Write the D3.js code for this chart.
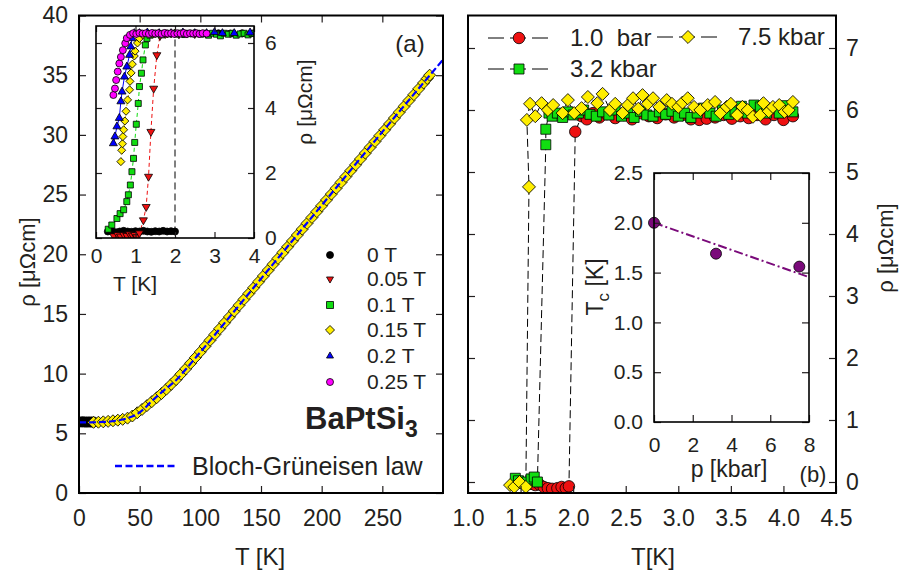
<!DOCTYPE html>
<html>
<head>
<meta charset="utf-8">
<script src="https://cdn.jsdelivr.net/npm/d3@7"></script>
<style>
  body { margin: 0; background: #fff; }
  text { font-family: "Liberation Sans", Arial, Helvetica, sans-serif; fill: #231f20; }
</style>
</head>
<body>
<svg id="chart" width="905" height="578"></svg>
<script>
// ---------- data ----------
// panel (a): rho [uOhm cm] vs T [K]
const mainCurve = [[12,5.92],[16,5.93],[20,5.96],[24,6.0],[28,6.05],[32,6.1],[36,6.17],[40,6.27],[44,6.45],[48,6.72],
  [52,7.0],[56,7.32],[60,7.65],[64,7.98],[68,8.33],[72,8.7],[76,9.1],[80,9.5],[84,9.95],[88,10.4],[92,10.87],[96,11.35],
  [100,11.82],[104,12.3],[108,12.79],[112,13.28],[116,13.77],[120,14.26],[124,14.75],[128,15.24],[132,15.73],[136,16.22],
  [140,16.71],[144,17.2],[148,17.69],[152,18.18],[156,18.67],[160,19.16],[164,19.65],[168,20.14],[172,20.63],[176,21.12],
  [180,21.61],[184,22.1],[188,22.59],[192,23.08],[196,23.57],[200,24.06],[204,24.55],[208,25.04],[212,25.53],[216,26.02],
  [220,26.51],[224,27.0],[228,27.49],[232,27.98],[236,28.47],[240,28.96],[244,29.45],[248,29.94],[252,30.43],[256,30.92],
  [260,31.41],[264,31.9],[268,32.39],[272,32.88],[276,33.37],[280,33.86],[284,34.35],[287,34.72],[289,35.0]];
const mainZeroField = [[1.5,5.95],[3,5.96],[4.5,5.95],[6,5.94],[7.5,5.95],[9,5.95],[10.5,5.94],[12,5.95]];
const blochGruneisen = [[0,5.92],[10,5.92],[20,5.95],[30,6.05],[40,6.27],[50,6.75],[60,7.7],[70,8.6],[80,9.45],
  [90,10.6],[100,11.8],[150,17.95],[200,24.1],[250,30.25],[300,36.3]];

// panel (a) inset: low-T transitions in field
const fieldLabels = ["0 T", "0.05 T", "0.1 T", "0.15 T", "0.2 T", "0.25 T"];
const field0 = [[0.3,0.2],[0.4,0.22],[0.5,0.18],[0.6,0.2],[0.7,0.22],[0.8,0.2],[0.9,0.19],[1.0,0.21],[1.1,0.2],[1.2,0.22],
  [1.3,0.2],[1.4,0.19],[1.5,0.21],[1.6,0.2],[1.7,0.22],[1.8,0.2],[1.9,0.21],[2.0,0.2],[2.0,6.3],[2.2,6.28],[2.5,6.3],
  [2.8,6.28],[3.1,6.3],[3.4,6.29],[3.7,6.3],[4.0,6.3]];
const field005 = [[0.45,0.06],[0.55,0.1],[0.62,0.05],[0.7,0.1],[0.78,0.07],[0.85,0.12],[0.92,0.08],[0.98,0.1],[1.03,0.03],
  [1.1,0.15],[1.2,0.55],[1.27,0.96],[1.33,1.89],[1.39,3.27],[1.46,4.6],[1.54,5.63],[1.62,6.22],[1.75,6.28],[1.9,6.3],
  [2.1,6.27],[2.3,6.3],[2.5,6.28]];
const field01 = [[0.31,0.27],[0.4,0.4],[0.53,0.6],[0.61,0.75],[0.7,0.87],[0.78,1.12],[0.82,1.33],[0.87,1.63],[0.91,2.04],
  [0.95,2.45],[0.98,2.94],[1.02,3.5],[1.07,4.14],[1.1,4.66],[1.15,5.07],[1.19,5.48],[1.25,5.94],[1.29,6.14],[1.37,6.24],
  [1.45,6.27],[1.55,6.3],[1.65,6.25],[1.75,6.3],[1.85,6.28],[1.95,6.3],[2.05,6.27],[2.15,6.3],[2.25,6.26],[2.35,6.3],
  [2.45,6.28],[2.55,6.3],[2.65,6.27],[2.75,6.3],[2.85,6.24],[2.95,6.3],[3.05,6.27],[3.15,6.22],[3.25,6.3],[3.35,6.27],
  [3.45,6.3],[3.55,6.24],[3.65,6.28],[3.75,6.3],[3.85,6.25],[3.95,6.29],[4.0,6.3]];
const field015 = [[0.63,2.35],[0.65,2.7],[0.67,2.9],[0.68,3.12],[0.7,3.33],[0.73,3.6],[0.76,3.9],[0.8,4.25],[0.85,4.56],
  [0.86,4.82],[0.89,5.08],[0.92,5.35],[0.97,5.6],[0.99,5.75],[1.05,6.0],[1.1,6.14],[1.18,6.25],[1.3,6.3],[1.45,6.28],
  [1.6,6.3],[1.8,6.28],[2.0,6.3]];
const field02 = [[0.44,2.91],[0.48,3.12],[0.53,3.43],[0.59,3.69],[0.63,4.2],[0.66,4.5],[0.72,4.96],[0.78,5.27],[0.85,5.63],
  [0.88,5.89],[0.91,6.14],[0.97,6.3],[1.1,6.3],[1.3,6.32],[1.6,6.3],[1.9,6.3],[2.2,6.32],[2.5,6.3],[2.8,6.3],[3.0,6.33],
  [3.2,6.3],[3.5,6.3],[3.9,6.32]];
const field025 = [[0.44,4.4],[0.48,4.6],[0.51,4.86],[0.55,5.12],[0.59,5.37],[0.63,5.57],[0.68,5.78],[0.74,5.99],[0.78,6.15],
  [0.86,6.25],[0.94,6.3],[1.02,6.28],[1.1,6.31],[1.18,6.29],[1.26,6.3],[1.34,6.28],[1.42,6.31],[1.5,6.29],[1.58,6.3],
  [1.66,6.28],[1.74,6.31],[1.82,6.29],[1.9,6.3],[1.98,6.28],[2.06,6.3],[2.14,6.29],[2.22,6.31],[2.3,6.28],[2.38,6.3],
  [2.46,6.29],[2.54,6.3],[2.62,6.28],[2.7,6.3],[2.8,6.29]];

// panel (b): rho vs T under pressure
const pressureLabels = ["1.0  bar", "3.2 kbar", "7.5 kbar"];
const bar10 = [[1.6,-0.03],[1.64,-0.05],[1.68,-0.04],[1.72,-0.08],[1.76,-0.1],[1.8,-0.11],[1.85,-0.1],[1.89,-0.08],
  [1.93,-0.1],[1.96,-0.07],[2.02,5.65],[2.08,5.9],[2.13,5.85],[2.19,5.95],[2.25,5.88],[2.32,5.93],[2.4,5.87],[2.48,5.92],
  [2.56,5.85],[2.64,5.95],[2.72,5.9],[2.8,5.87],[2.88,5.93],[2.96,5.88],[3.04,5.92],[3.12,5.85],[3.2,5.84],[3.27,5.86],
  [3.35,5.88],[3.43,5.92],[3.51,5.86],[3.59,5.9],[3.67,5.87],[3.75,5.92],[3.83,5.85],[3.91,5.92],[4.0,5.84],[4.09,5.9]];
const kbar32 = [[1.45,0.06],[1.48,0.02],[1.52,-0.02],[1.56,0.0],[1.6,0.05],[1.63,0.08],[1.66,0.0],[1.74,5.44],[1.74,5.69],
  [1.77,5.95],[1.8,5.9],[1.85,5.95],[1.9,5.88],[1.95,5.97],[2.0,5.92],[2.05,5.95],[2.1,6.0],[2.16,5.93],[2.22,5.9],
  [2.28,5.97],[2.34,5.92],[2.4,6.0],[2.46,5.9],[2.52,5.95],[2.58,5.88],[2.64,5.98],[2.7,5.92],[2.76,5.9],[2.82,5.97],
  [2.88,5.93],[2.94,5.98],[3.0,5.9],[3.06,5.95],[3.12,5.88],[3.18,5.95],[3.24,6.03],[3.3,5.95],[3.36,5.9],[3.42,6.0],
  [3.48,5.93],[3.54,5.97],[3.6,6.06],[3.66,5.95],[3.72,6.08],[3.78,6.05],[3.84,5.95],[3.9,6.02],[3.96,5.95],[4.02,6.07],
  [4.09,5.97]];
const kbar75 = [[1.4,-0.05],[1.44,-0.08],[1.49,0.0],[1.55,-0.08],[1.58,4.76],[1.56,5.84],[1.59,6.1],[1.64,5.9],[1.7,6.11],
  [1.76,6.0],[1.81,6.08],[1.9,5.95],[1.95,6.16],[2.01,5.95],[2.08,6.03],[2.14,6.21],[2.23,6.11],[2.28,6.26],[2.35,6.0],
  [2.4,6.1],[2.47,5.95],[2.52,6.08],[2.57,6.19],[2.62,6.02],[2.66,6.24],[2.71,6.1],[2.76,6.19],[2.82,6.05],[2.89,6.16],
  [2.94,6.1],[3.0,6.05],[3.04,6.12],[3.09,6.19],[3.15,6.05],[3.21,6.0],[3.28,6.08],[3.35,6.13],[3.4,5.95],[3.46,6.05],
  [3.5,6.1],[3.56,5.92],[3.61,6.05],[3.66,6.0],[3.71,5.89],[3.78,5.92],[3.81,6.11],[3.86,5.98],[3.9,6.05],[3.96,6.08],
  [4.01,5.97],[4.05,6.0],[4.09,6.13]];

// panel (b) inset: Tc vs pressure
const tcPressure = [0, 3.2, 7.5];
const tcValues = [2.0, 1.69, 1.56];
const tcFit = [[0, 2.0], [8, 1.455]];

// tick values
const ticksAx = [0, 50, 100, 150, 200, 250];
const ticksAy = [0, 5, 10, 15, 20, 25, 30, 35, 40];
const ticksIAx = [0, 1, 2, 3, 4];
const ticksIAy = [0, 2, 4, 6];
const ticksBx = [1.0, 1.5, 2.0, 2.5, 3.0, 3.5, 4.0, 4.5];
const ticksBy = [0, 1, 2, 3, 4, 5, 6, 7];
const ticksIBx = [0, 2, 4, 6, 8];
const ticksIBy = [0, 0.5, 1.0, 1.5, 2.0, 2.5];

// ---------- setup ----------
const FONT = '"Liberation Sans", Arial, Helvetica, sans-serif';
const INK = "#231f20";
const RED = "#ee1111", GREEN = "#11dd11", YELLOW = "#ffee00", BLUE = "#0000ff", MAGENTA = "#ff00ff", PURPLE = "#7a0a7a";

const svg = d3.select("#chart");

// panel geometry
const A = { left: 79, right: 443, top: 15.5, bottom: 493 };
const IA = { left: 96, right: 254, top: 26, bottom: 238 };
const B = { left: 468, right: 836, top: 15.5, bottom: 493 };
const IB = { left: 654, right: 809, top: 173, bottom: 422 };

const xA = d3.scaleLinear().domain([0, 300]).range([A.left, A.right]);
const yA = d3.scaleLinear().domain([0, 40]).range([A.bottom, A.top]);
const xIA = d3.scaleLinear().domain([0, 4]).range([IA.left, IA.right]);
const yIA = d3.scaleLinear().domain([0, 6]).range([IA.bottom, 43]);
const xB = d3.scaleLinear().domain([1.0, 4.5]).range([B.left, B.right]);
const yB = d3.scaleLinear().domain([0, 7]).range([482, 48]);
const xIB = d3.scaleLinear().domain([0, 8]).range([IB.left, IB.right]);
const yIB = d3.scaleLinear().domain([0, 2.5]).range([IB.bottom, IB.top]);

// clip paths
const defs = svg.append("defs");
function clip(id, p) {
  defs.append("clipPath").attr("id", id).append("rect")
    .attr("x", p.left).attr("y", p.top).attr("width", p.right - p.left).attr("height", p.bottom - p.top);
  return `url(#${id})`;
}

function symbolPath(shape, s) {
  if (shape === "circle") return d3.symbol(d3.symbolCircle, Math.PI * s * s / 4)();
  if (shape === "square") return d3.symbol(d3.symbolSquare, s * s)();
  if (shape === "diamond") return d3.symbol(d3.symbolSquare, s * s / 2)();
  return d3.symbol(d3.symbolTriangle, s * s * 0.433)();
}
const rotation = { diamond: 45, triDown: 180 };

function drawMarks(g, pts, x, y, shape, s, fill) {
  const d = symbolPath(shape, s);
  const rot = rotation[shape] || 0;
  g.append("g").selectAll("path").data(pts).join("path")
    .attr("d", d)
    .attr("transform", (p) => `translate(${x(p[0])},${y(p[1])}) rotate(${rot})`)
    .attr("fill", fill).attr("stroke", "#000").attr("stroke-width", 0.8);
}

function drawLine(g, pts, x, y, stroke, dash, w, curve) {
  const line = d3.line().x((p) => x(p[0])).y((p) => y(p[1]));
  if (curve) line.curve(curve);
  g.append("path").datum(pts).attr("d", line)
    .attr("fill", "none").attr("stroke", stroke).attr("stroke-width", w)
    .attr("stroke-dasharray", dash);
}

function addAxis(gen, transform, fs) {
  const a = svg.append("g").attr("transform", transform).call(gen);
  a.select(".domain").remove();
  a.attr("font-size", fs).attr("font-family", FONT).attr("color", INK);
  a.selectAll(".tick line").attr("stroke-width", 1.2);
  return a;
}

function frame(p, w) {
  svg.append("rect").attr("x", p.left).attr("y", p.top)
    .attr("width", p.right - p.left).attr("height", p.bottom - p.top)
    .attr("fill", "none").attr("stroke", "#000").attr("stroke-width", w);
}

function label(x, y, txt, fs, anchor, rot) {
  const t = svg.append("text").attr("font-size", fs).attr("text-anchor", anchor || "start")
    .attr("transform", `translate(${x},${y})` + (rot ? ` rotate(${rot})` : ""))
    .style("white-space", "pre");
  t.text(txt);
  return t;
}

// ---------- panel (a) ----------
const gA = svg.append("g").attr("clip-path", clip("clipA", A));
drawMarks(gA, mainZeroField, xA, yA, "circle", 10, "#000");
drawMarks(gA, mainCurve, xA, yA, "diamond", 12, YELLOW);
drawLine(gA, blochGruneisen, xA, yA, BLUE, "7,3", 2.2, d3.curveMonotoneX);

addAxis(d3.axisBottom(xA).tickValues(ticksAx).tickSize(-7).tickPadding(17), `translate(0,${A.bottom})`, 23);
addAxis(d3.axisTop(xA).tickValues(ticksAx).tickSize(-7).tickFormat(""), `translate(0,${A.top})`, 23);
addAxis(d3.axisLeft(yA).tickValues(ticksAy).tickSize(-7).tickPadding(11), `translate(${A.left},0)`, 23);
addAxis(d3.axisRight(yA).tickValues(ticksAy).tickSize(-7).tickFormat(""), `translate(${A.right},0)`, 23);
frame(A, 2);

label(260, 565, "T [K]", 24, "middle");
label(35, 262, "ρ [μΩcm]", 22, "middle", -90);
label(410, 52, "(a)", 24, "middle");

// legend (a)
const legendShapes = [["circle", "#000"], ["triDown", RED], ["square", GREEN], ["diamond", YELLOW], ["triUp", BLUE], ["circle", MAGENTA]];
const legendRowsA = [255, 279, 305, 330, 356, 382];
legendShapes.forEach(([shape, fill], i) => {
  drawMarks(svg, [[0, 0]], (v) => 330 + v, (v) => legendRowsA[i] + v, shape, shape === "diamond" ? 9 : 7, fill);
  label(367, legendRowsA[i] + 7, fieldLabels[i], 21);
});

const formula = svg.append("text").attr("x", 305).attr("y", 429).attr("font-size", 31).attr("font-weight", "bold");
formula.append("tspan").text("BaPtSi");
formula.append("tspan").attr("font-size", 23).attr("dy", 8).text("3");

svg.append("line").attr("x1", 115).attr("x2", 175).attr("y1", 466).attr("y2", 466)
  .attr("stroke", BLUE).attr("stroke-width", 2.5).attr("stroke-dasharray", "7,3.5");
label(192, 475, "Bloch-Grüneisen law", 25);

// ---------- panel (a) inset ----------
svg.append("rect").attr("x", IA.left).attr("y", IA.top).attr("width", IA.right - IA.left)
  .attr("height", IA.bottom - IA.top).attr("fill", "#fff");
const gIA = svg.append("g").attr("clip-path", clip("clipIA", IA));
drawLine(gIA, field0, xIA, yIA, "#000", "7,4", 1, null);
drawLine(gIA, field005, xIA, yIA, RED, "4,3", 1, null);
drawLine(gIA, field01, xIA, yIA, GREEN, "4,3", 1, null);
drawLine(gIA, field015, xIA, yIA, "#d8c800", "4,3", 1, null);
drawLine(gIA, field02, xIA, yIA, BLUE, null, 1, null);
drawMarks(gIA, field0, xIA, yIA, "circle", 7, "#000");
drawMarks(gIA, field005, xIA, yIA, "triDown", 8, RED);
drawMarks(gIA, field01, xIA, yIA, "square", 6, GREEN);
drawMarks(gIA, field015, xIA, yIA, "diamond", 8, YELLOW);
drawMarks(gIA, field02, xIA, yIA, "triUp", 8, BLUE);
drawMarks(gIA, field025, xIA, yIA, "circle", 7, MAGENTA);

addAxis(d3.axisBottom(xIA).tickValues(ticksIAx).tickFormat(d3.format("d")).tickSize(-6).tickPadding(10), `translate(0,${IA.bottom})`, 21);
addAxis(d3.axisTop(xIA).tickValues(ticksIAx).tickSize(-6).tickFormat(""), `translate(0,${IA.top})`, 21);
addAxis(d3.axisRight(yIA).tickValues(ticksIAy).tickFormat(d3.format("d")).tickSize(-6).tickPadding(11), `translate(${IA.right},0)`, 21);
addAxis(d3.axisLeft(yIA).tickValues(ticksIAy).tickSize(-6).tickFormat(""), `translate(${IA.left},0)`, 21);
frame(IA, 1.6);
label(135, 291, "T [K]", 21, "middle");
label(312, 102, "ρ [μΩcm]", 21, "middle", -90);

// ---------- panel (b) ----------
const gB = svg.append("g").attr("clip-path", clip("clipB", B));
drawLine(gB, bar10, xB, yB, "#000", "8,4", 1, null);
drawLine(gB, kbar32, xB, yB, "#000", "8,4", 1, null);
drawLine(gB, kbar75, xB, yB, "#000", "8,4", 1, null);
drawMarks(gB, bar10, xB, yB, "circle", 11.5, RED);
drawMarks(gB, kbar32, xB, yB, "square", 10, GREEN);
drawMarks(gB, kbar75, xB, yB, "diamond", 13, YELLOW);

addAxis(d3.axisBottom(xB).tickValues(ticksBx).tickFormat(d3.format(".1f")).tickSize(-7).tickPadding(17), `translate(0,${B.bottom})`, 23);
addAxis(d3.axisRight(yB).tickValues(ticksBy).tickFormat(d3.format("d")).tickSize(-7).tickPadding(10), `translate(${B.right},0)`, 23);
addAxis(d3.axisLeft(yB).tickValues(ticksBy).tickSize(-7).tickFormat(""), `translate(${B.left},0)`, 23);
frame(B, 2);
label(653, 565, "T[K]", 24, "middle");
label(893, 248, "ρ [μΩcm]", 22, "middle", -90);

// legend (b)
const legendB = [
  { x: 488, y: 38, tx: 570, shape: "circle", s: 11.5, fill: RED, text: pressureLabels[0] },
  { x: 488, y: 69, tx: 570, shape: "square", s: 10, fill: GREEN, text: pressureLabels[1] },
  { x: 657, y: 37, tx: 738, shape: "diamond", s: 13, fill: YELLOW, text: pressureLabels[2] },
];
legendB.forEach((d) => {
  svg.append("line").attr("x1", d.x).attr("x2", d.x + 60).attr("y1", d.y).attr("y2", d.y)
    .attr("stroke", "#000").attr("stroke-width", 1).attr("stroke-dasharray", "16,6");
  drawMarks(svg, [[0, 0]], (v) => d.x + 31 + v, (v) => d.y + v, d.shape, d.s, d.fill);
  label(d.tx, d.y + 8, d.text, 24);
});

// ---------- panel (b) inset ----------
svg.append("rect").attr("x", IB.left).attr("y", IB.top).attr("width", IB.right - IB.left)
  .attr("height", IB.bottom - IB.top).attr("fill", "#fff");
const gIB = svg.append("g").attr("clip-path", clip("clipIB", IB));
drawLine(gIB, tcFit, xIB, yIB, PURPLE, "9,3,2,3", 2, null);
drawMarks(svg, tcPressure.map((p, i) => [p, tcValues[i]]), xIB, yIB, "circle", 11, PURPLE);

addAxis(d3.axisBottom(xIB).tickValues(ticksIBx).tickSize(-7).tickPadding(15), `translate(0,${IB.bottom})`, 21);
addAxis(d3.axisTop(xIB).tickValues(ticksIBx).tickSize(-7).tickFormat(""), `translate(0,${IB.top})`, 21);
addAxis(d3.axisLeft(yIB).tickValues(ticksIBy).tickFormat(d3.format(".1f")).tickSize(-7).tickPadding(11), `translate(${IB.left},0)`, 21);
addAxis(d3.axisRight(yIB).tickValues(ticksIBy).tickSize(-7).tickFormat(""), `translate(${IB.right},0)`, 21);
frame(IB, 1.6);
label(729, 477, "p [kbar]", 23, "middle");
label(813, 482, "(b)", 22, "middle");
const tcLabel = svg.append("text").attr("font-size", 23).attr("text-anchor", "middle")
  .attr("transform", "translate(603,287) rotate(-90)");
tcLabel.append("tspan").text("T");
tcLabel.append("tspan").attr("font-size", 17).attr("dy", 6).text("c");
tcLabel.append("tspan").attr("dy", -6).text(" [K]");
</script>
</body>
</html>
